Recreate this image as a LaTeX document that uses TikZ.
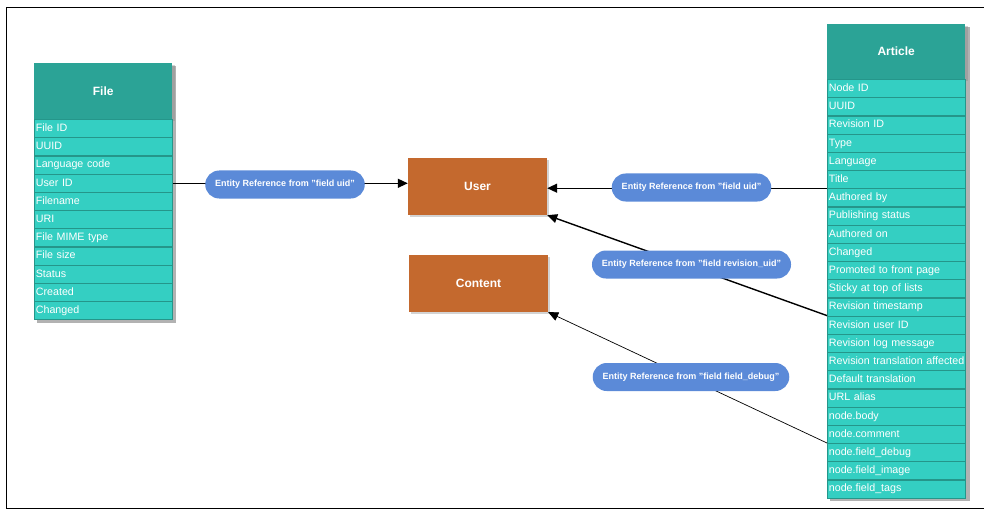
\documentclass[tikz,border=0pt]{standalone}
\usepackage{fontspec}
\setmainfont{Liberation Sans}
\usetikzlibrary{shadows,arrows.meta}
\definecolor{hdr}{HTML}{2BA396}
\definecolor{rowc}{HTML}{34CFC2}
\definecolor{rowb}{HTML}{25968A}
\definecolor{org}{HTML}{C4692E}
\definecolor{pillc}{HTML}{5B8AD8}
\tikzset{
  hdrbox/.style={fill=hdr, draw=none, minimum width=138pt, anchor=north west, inner sep=0pt,
     text=white, font=\bfseries\fontsize{12}{14}\selectfont, drop shadow={shadow xshift=3pt, shadow yshift=-2pt, opacity=0.35}},
  rowbox/.style={fill=rowc, draw=rowb, line width=1.2pt, minimum width=138pt, minimum height=18.2pt,
     anchor=north west, inner ysep=0pt, inner xsep=1.2pt, text width=135.5pt, align=left,
     text height=8pt, text depth=2.4pt,
     text=white, font=\fontsize{10.7}{12}\selectfont},
  entbox/.style={fill=org, draw=none, minimum width=139pt, minimum height=57pt, inner sep=0pt,
     text=white, font=\bfseries\fontsize{12}{14}\selectfont, drop shadow={shadow xshift=2pt, shadow yshift=-2pt, opacity=0.35}},
  pill/.style={fill=pillc, draw=none, rounded corners=14pt, minimum height=28pt, inner xsep=10pt,
     text=white, font=\bfseries\fontsize{9}{11}\selectfont},
  arr/.style={draw=black, line width=1.4pt, -{Triangle[length=10pt, width=9pt]}},
  thinarr/.style={draw=black, line width=0.7pt, -{Triangle[length=10pt, width=9pt]}},
  frame/.style={draw=black, line width=1pt}
}
\begin{document}
\begin{tikzpicture}[x=1pt, y=-1pt]
\useasboundingbox (0,0) rectangle (984,513);
\draw[frame] (990,8) -- (6.5,8) -- (6.5,508.5) -- (990,508.5);

% shadows for tables
\fill[black, opacity=0.3] (37,66) rectangle (175.5,322.5);
\fill[black, opacity=0.3] (830,27) rectangle (969.5,500.5);

% File table
\node[hdrbox, minimum height=56pt] (fh) at (34,63) {File};
\foreach \t [count=\i] in {File ID, UUID, Language code, User ID, Filename, URI, File MIME type, File size, Status, Created, Changed}{
  \node[rowbox] (f\i) at (34,{119+(\i-1)*18.2}) {\mbox{\t}};
}

% Article table
\node[hdrbox, minimum height=55pt] (ah) at (827,24) {Article};
\foreach \t [count=\i] in {Node ID, UUID, Revision ID, Type, Language, Title, Authored by, Publishing status, Authored on, Changed, Promoted to front page, Sticky at top of lists, Revision timestamp, Revision user ID, Revision log message, Revision translation affected, Default translation, URL alias, node.body, node.comment, node.field\_debug, node.field\_image, node.field\_tags}{
  \node[rowbox] (a\i) at (827,{79+(\i-1)*18.2}) {\mbox{\t}};
}

% Entities
\node[entbox] (user) at (477.5,186.5) {User};
\node[entbox] (content) at (478.5,283.5) {Content};

% Connectors
\draw[arr] (f4.east) -- (f4.east -| user.west);
\draw[arr] (a7.north west) -- (a7.north west -| user.east);
\draw[arr] (a14.north west) -- (user.south east);
\draw[thinarr] (a21.north west) -- (content.south east);

% Labels
\node[pill] (p1) at (285,184.5) {Entity Reference from "field uid"};
\node[pill] (p2) at (691.5,187.5) {Entity Reference from "field uid"};
\node[pill] (p3) at (691.5,264.5) {Entity Reference from "field revision\_uid"};
\node[pill] (p4) at (691,377) {Entity Reference from "field field\_debug"};
\end{tikzpicture}
\end{document}
